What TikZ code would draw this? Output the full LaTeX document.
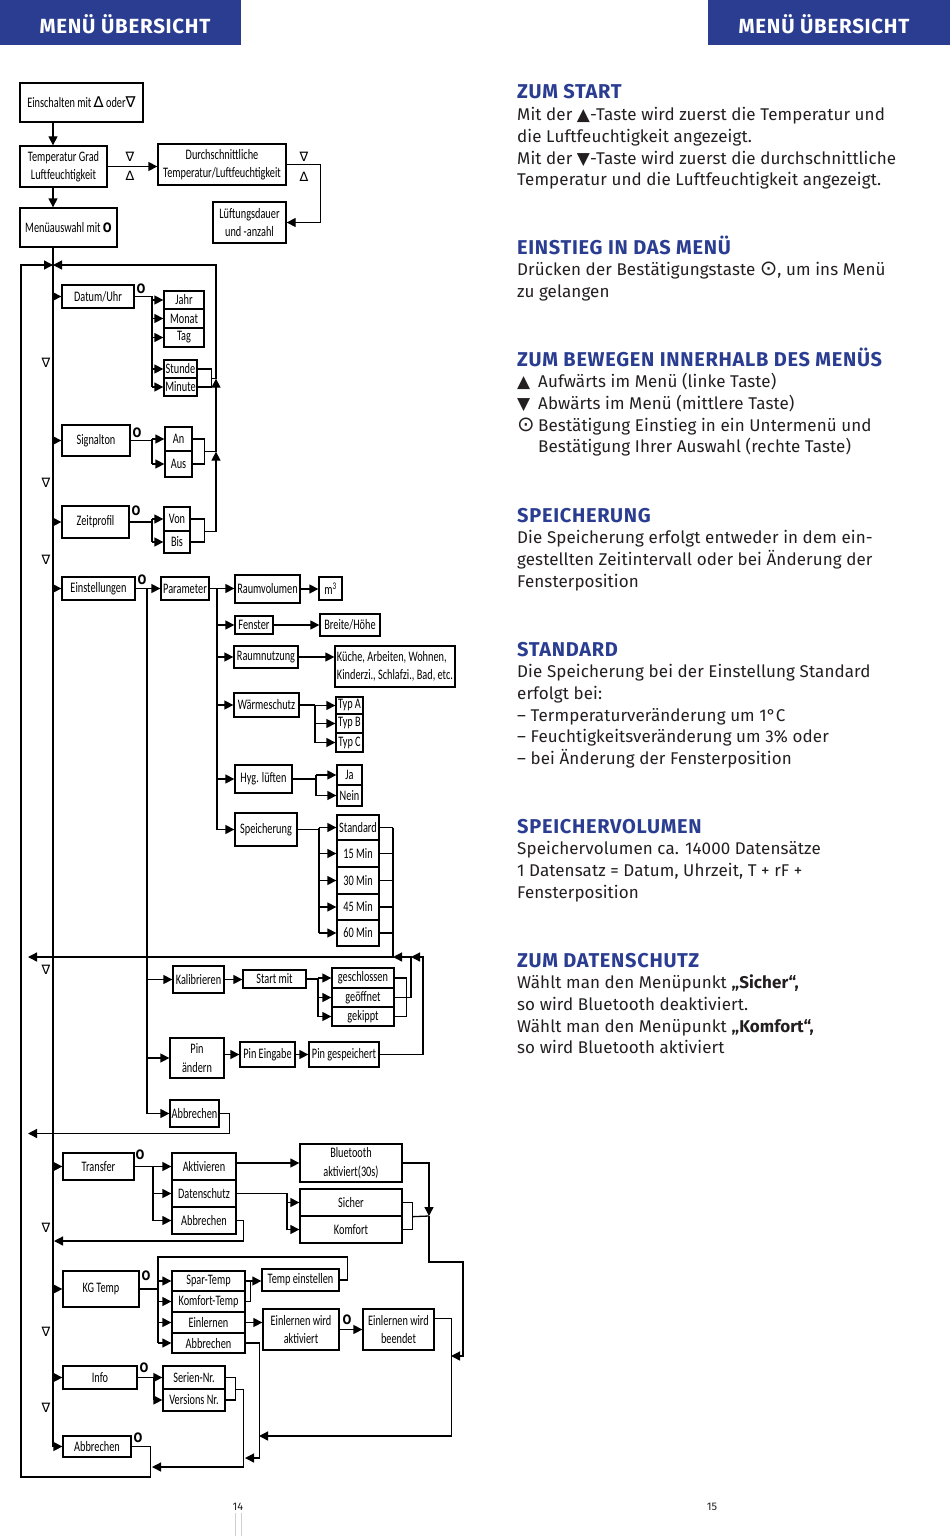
\documentclass[tikz,border=0pt]{standalone}
\usepackage{fontspec}
\setmainfont{Fira Sans}
\newfontfamily\boxfont[FakeStretch=0.71]{Carlito}
\newfontfamily\symfont{DejaVu Sans}
\newfontfamily\ringfont[FakeStretch=0.8]{DejaVu Sans}
\usetikzlibrary{arrows.meta,calc}
\definecolor{menublue}{RGB}{42,61,145}
\definecolor{txtgray}{RGB}{35,31,32}
\newcommand{\blk}[1]{{\symfont #1}}
\newcommand{\bigdot}{{\symfont\fontsize{21}{20}\selectfont ⊙}}
\newcommand{\keyup}{{\symfont\fontsize{15}{15}\selectfont ∆}}
\newcommand{\keydn}{{\symfont\fontsize{15}{15}\selectfont ∇}}

\tikzset{
	box/.style={draw,line width=1.3pt,inner sep=1pt,align=center,font=\boxfont\fontsize{14.5}{18.5}\selectfont},
	bx/.style 2 args={box,minimum width=#1,minimum height=#2},
	wire/.style={line width=1.3pt},
	arr/.style={wire,-{Triangle[length=9pt,width=9pt]}},
	okmark/.style={inner sep=0pt,font=\ringfont\bfseries\fontsize{13}{13}\selectfont},
	tri/.style={inner sep=0pt,font=\symfont\fontsize{13}{13}\selectfont},
	head/.style={anchor=base west,inner sep=0pt,text=menublue,font=\bfseries\addfontfeature{LetterSpace=3.5}\fontsize{20}{20}\selectfont},
	body/.style={anchor=base west,inner sep=0pt,text=txtgray,font=\addfontfeature{LetterSpace=0.6}\fontsize{17}{20}\selectfont},
}

\begin{document}
\begin{tikzpicture}[x=1pt,y=-1pt]
	\useasboundingbox (0,0) rectangle (950,1536);
	
	%header bars
	\fill[menublue] (0,0) rectangle (241,45);
	\fill[menublue] (708,0) rectangle (950,45);
	\node[anchor=base,text=white,font=\bfseries\addfontfeature{LetterSpace=3.5}\fontsize{20.5}{20}\selectfont] (hleft) at (125,34) {MENÜ ÜBERSICHT};
	\node[anchor=base,text=white,font=\bfseries\addfontfeature{LetterSpace=3.5}\fontsize{20.5}{20}\selectfont] (hright) at (824,34) {MENÜ ÜBERSICHT};
	
	%start
	\coordinate (spine) at (53,265);
	\coordinate (outer) at (21,265);
	\coordinate (ret) at (216,265);
	\node[bx={123}{39}] (einsch) at (81.5,102.5) {Einschalten mit \keyup{} oder\keydn};
	\node[bx={87}{41}] (tempg) at (63.5,166.5) {Temperatur Grad\\Luftfeuchtigkeit};
	\node[bx={128}{41}] (durch) at (222,164.5) {Durchschnittliche\\Temperatur/Luftfeuchtigkeit};
	\node[bx={73}{41}] (lueft) at (249.5,222.5) {Lüftungsdauer\\und -anzahl};
	\node[bx={97}{39}] (menue) at (68.5,227.5) {Menüauswahl mit {\ringfont\bfseries\fontsize{13}{13}\selectfont O}};
	\node[tri] (tdn1) at (130,157) {∇};	\node[tri] (tup1) at (130,176) {∆};
	\node[tri] (tdn2) at (304,157) {∇};	\node[tri] (tup2) at (304,177) {∆};
	\draw[arr] (einsch.south -| spine) -- (tempg.north -| spine);
	\draw[arr] (tempg.east) -- (tempg.east -| durch.west);
	\draw[arr] (durch.east) -- ++(34,0) |- (lueft.east);
	\draw[arr] (tempg.south -| spine) -- (menue.north -| spine);
	
	%datum/uhr
	\node[bx={72}{23}] (datum) at (98,296.5) {Datum/Uhr};
	\node[okmark] (okdatum) at (141,289) {O};
	\node[bx={40}{18}] (jahr) at (184,300) {Jahr};
	\node[bx={40}{19}] (monat) at (184,318.5) {Monat};
	\node[bx={40}{19}] (tag) at (184,337.5) {Tag};
	\node[bx={33}{18}] (stunde) at (180.5,369) {Stunde};
	\node[bx={33}{18}] (minute) at (180.5,387) {Minute};
	\coordinate (bd) at (152,296.5);
	\draw[wire] (datum.east) -- (bd) -- (bd |- minute.west);
	\foreach \n in {jahr,monat,tag,stunde,minute} \draw[arr] (bd |- \n.west) -- (\n.west);
	\draw[wire] (stunde.east) -- ++(14,0) -- ([xshift=14]minute.east) -- (minute.east);
	\draw[wire] ([xshift=14]stunde.south east) -- (ret |- stunde.south east);
	
	%signalton
	\node[bx={68}{31}] (signal) at (96,440.5) {Signalton};
	\node[okmark] (oksignal) at (137,433) {O};
	\node[bx={27}{24}] (an) at (178.5,439) {An};
	\node[bx={27}{26}] (aus) at (178.5,464) {Aus};
	\coordinate (bs) at (152,440.5);
	\draw[wire] (signal.east) -- (bs) (bs |- an.west) -- (bs |- aus.west);
	\foreach \n in {an,aus} \draw[arr] (bs |- \n.west) -- (\n.west);
	\draw[wire] (an.east) -- ++(12,0) -- ([xshift=12]aus.east) -- (aus.east);
	\draw[wire] ([xshift=12]an.south east) -- (ret |- an.south east);
	
	%zeitprofil
	\node[bx={67}{32}] (zeit) at (95.5,522) {Zeitprofil};
	\node[okmark] (okzeit) at (136,511) {O};
	\node[bx={26}{24}] (von) at (177,519) {Von};
	\node[bx={26}{22}] (bis) at (177,542) {Bis};
	\coordinate (bz) at (152,522);
	\draw[wire] (zeit.east) -- (bz) (bz |- von.west) -- (bz |- bis.west);
	\foreach \n in {von,bis} \draw[arr] (bz |- \n.west) -- (\n.west);
	\draw[wire] (von.east) -- ++(14,0) -- ([xshift=14]bis.east) -- (bis.east);
	\draw[wire] ([xshift=14]von.south east) -- (ret |- von.south east);
	
	%back to the menu
	\draw[arr] (ret |- von.south east) -- (ret |- an.south east);
	\draw[arr] (ret |- an.south east) -- (ret |- stunde.south east);
	\draw[arr] (ret |- stunde.south east) -- (ret) -- (spine);
	
	%einstellungen
	\node[bx={73}{23}] (einst) at (98.5,588.5) {Einstellungen};
	\node[okmark] (okeinst) at (142,580) {O};
	\node[bx={48}{23}] (param) at (185,588.5) {Parameter};
	\node[bx={65}{28}] (raumvol) at (267.5,589) {Raumvolumen};
	\node[bx={23}{23}] (mcube) at (330.5,588.5) {m\textsuperscript{3}};
	\node[bx={38}{18}] (fenster) at (254,625) {Fenster};
	\node[bx={60}{22}] (breite) at (350,625) {Breite/Höhe};
	\node[bx={64}{22}] (raumnutz) at (266,657) {Raumnutzung};
	\node[bx={120}{41},align=left] (kueche) at (395,666.5) {Küche, Arbeiten, Wohnen,\\Kinderzi., Schlafzi., Bad, etc.};
	\node[bx={65}{24}] (waerme) at (266.5,705) {Wärmeschutz};
	\node[bx={27}{17}] (typa) at (349.5,705.5) {Typ A};
	\node[bx={27}{19}] (typb) at (349.5,723.5) {Typ B};
	\node[bx={27}{19}] (typc) at (349.5,742.5) {Typ C};
	\node[bx={57}{28}] (hyg) at (263.5,779) {Hyg. lüften};
	\node[bx={25}{20}] (ja) at (349.5,775) {Ja};
	\node[bx={25}{21}] (nein) at (349.5,795.5) {Nein};
	\node[bx={62}{33}] (speich) at (266,829.5) {Speicherung};
	\node[bx={42}{25}] (standard) at (358,827.5) {Standard};
	\node[bx={42}{27}] (min15) at (358,853.5) {15 Min};
	\node[bx={42}{27}] (min30) at (358,880.5) {30 Min};
	\node[bx={42}{26}] (min45) at (358,907) {45 Min};
	\node[bx={42}{26}] (min60) at (358,933) {60 Min};
	%
	\draw[arr] (einst.east) -- (einst.east -| param.west);
	\draw[arr] (param.east) -- (param.east -| raumvol.west);
	\draw[arr] (raumvol.east) -- (raumvol.east -| mcube.west);
	\coordinate (bp) at (217,588.5);
	\draw[wire] (bp) -- (bp |- speich.west);
	\foreach \n in {fenster,raumnutz,waerme,hyg,speich} \draw[arr] (bp |- \n.west) -- (\n.west);
	\draw[arr] (fenster.east) -- (breite.west);
	\draw[arr] (raumnutz.east) -- (raumnutz.east -| kueche.west);
	\coordinate (bw) at (315,705);
	\draw[wire] (waerme.east) -- (bw) (bw |- typa.west) -- (bw |- typc.west);
	\foreach \n in {typa,typb,typc} \draw[arr] (bw |- \n.west) -- (\n.west);
	\coordinate (bh) at (316,779);
	\draw[wire] (hyg.east) -- (bh) (bh |- ja.west) -- (bh |- nein.west);
	\foreach \n in {ja,nein} \draw[arr] (bh |- \n.west) -- (\n.west);
	\coordinate (bsp) at (319,829.5);
	\draw[wire] (speich.east) -- (bsp) (bsp |- standard.west) -- (bsp |- min60.west);
	\foreach \n in {standard,min15,min30,min45,min60} \draw[arr] (bsp |- \n.west) -- (\n.west);
	\coordinate (rs) at (393,957);
	\foreach \n in {standard,min15,min30,min45,min60} \draw[wire] (\n.east) -- (\n.east -| rs);
	
	%kalibrieren, pin, abbrechen
	\node[bx={51}{27}] (kalib) at (198.5,979.5) {Kalibrieren};
	\node[bx={63}{18}] (startm) at (274.5,979) {Start mit};
	\node[bx={62}{20}] (geschl) at (363,978) {geschlossen};
	\node[bx={62}{19}] (geoeff) at (363,997.5) {geöffnet};
	\node[bx={62}{19}] (gekippt) at (363,1016.5) {gekippt};
	\node[bx={54}{40}] (pinaend) at (197,1058) {Pin\\ändern};
	\node[bx={55}{25}] (pinein) at (267.5,1054.5) {Pin Eingabe};
	\node[bx={70}{25}] (pingesp) at (344,1054.5) {Pin gespeichert};
	\node[bx={49}{27}] (abbr1) at (194.5,1113.5) {Abbrechen};
	%
	\coordinate (be) at (147,588.5);
	\draw[wire] (be) -- (be |- abbr1.west);
	\foreach \n in {kalib,pinaend,abbr1} \draw[arr] (be |- \n.west) -- (\n.west);
	\draw[arr] (kalib.east) -- (kalib.east -| startm.west);
	\coordinate (bk) at (318,979);
	\draw[wire] (startm.east) -- (bk) (bk |- geschl.west) -- (bk |- gekippt.west);
	\foreach \n in {geschl,geoeff,gekippt} \draw[arr] (bk |- \n.west) -- (\n.west);
	\draw[wire] (geschl.east) -- ++(12,0) -- ([xshift=12]gekippt.east) -- (gekippt.east);
	\draw[arr] (pinaend.east |- pinein.west) -- (pinein.west);
	\draw[arr] (pinein.east) -- (pingesp.west);
	%return lines
	\coordinate (rk) at (411,957);
	\coordinate (rp) at (423,957);
	\coordinate (rsend) at (28,957);
	\coordinate (rbend) at (28,1133.5);
	\draw[arr] (pingesp.east) -| (rp) -- (rk);
	\draw[arr] (geoeff.east) -| (rk) -- (rs);
	\draw[arr] (rs |- standard.east) -- (rs) -- (rsend);
	\draw[arr] (abbr1.east) -- ++(10,0) |- (rbend);
	
	%transfer
	\node[bx={71}{27}] (transfer) at (98.5,1166.5) {Transfer};
	\node[okmark] (oktransfer) at (140,1155) {O};
	\node[bx={64}{27}] (aktiv) at (204,1166.5) {Aktivieren};
	\node[bx={64}{27}] (daten) at (204,1193.5) {Datenschutz};
	\node[bx={64}{27}] (abbr2) at (204,1220.5) {Abbrechen};
	\node[bx={102}{38}] (blue) at (351,1163) {Bluetooth\\aktiviert(30s)};
	\node[bx={102}{27}] (sicher) at (351,1202.5) {Sicher};
	\node[bx={102}{27}] (komfort) at (351,1229.5) {Komfort};
	%
	\coordinate (bt) at (153,1166.5);
	\draw[wire] (transfer.east) -- (bt) -- (bt |- abbr2.west);
	\foreach \n in {aktiv,daten,abbr2} \draw[arr] (bt |- \n.west) -- (\n.west);
	\draw[arr] (blue.west -| aktiv.east) -- (blue.west);
	\coordinate (bdat) at (287,1193.5);
	\draw[wire] (daten.east) -- (bdat) -- (bdat |- komfort.west);
	\foreach \n in {sicher,komfort} \draw[arr] (bdat |- \n.west) -- (\n.west);
	\draw[wire] (sicher.east) -- ++(10,0) -- ([xshift=10]komfort.east) -- (komfort.east);
	\coordinate (bb) at (429,1216);
	\coordinate (bb2) at (463,1262);
	\coordinate (bbend) at (451,1356);
	\coordinate (trback) at (54,1241);
	\draw[wire] ([xshift=10]sicher.south east) -- (bb);
	\draw[arr] (blue.east) -| (bb);
	\draw[arr] (bb) -- (bb |- bb2) -- (bb2) |- (bbend);
	\draw[arr] (abbr2.east) -- ++(7,0) |- (trback);
	
	%kg temp
	\node[bx={76}{36}] (kgtemp) at (101,1289) {KG Temp};
	\node[okmark] (okkg) at (146,1276) {O};
	\node[bx={73}{20}] (spar) at (208.5,1281) {Spar-Temp};
	\node[bx={73}{21}] (komft) at (208.5,1301.5) {Komfort-Temp};
	\node[bx={73}{21}] (einl) at (208.5,1322.5) {Einlernen};
	\node[bx={73}{20}] (abbr3) at (208.5,1343) {Abbrechen};
	\node[bx={77}{22}] (tempein) at (300.5,1280) {Temp einstellen};
	\node[bx={76}{41}] (einlakt) at (301,1329.5) {Einlernen wird\\aktiviert};
	\node[okmark] (okeinl) at (347,1320) {O};
	\node[bx={71}{41}] (einlend) at (398.5,1329.5) {Einlernen wird\\beendet};
	%
	\coordinate (bkg) at (158,1289);
	\coordinate (kgtop) at (158,1257);
	\coordinate (kgret) at (259,1436);
	\coordinate (kgend) at (245,1458);
	\draw[wire] (kgtemp.east) -- (bkg);
	\draw[wire] (tempein.east) -- ++(8,0) |- (kgtop) -- (kgtop |- abbr3.west);
	\foreach \n in {spar,komft,einl,abbr3} \draw[arr] (kgtop |- \n.west) -- (\n.west);
	\draw[arr] (spar.east) -- (spar.east -| tempein.west);
	\draw[wire] (komft.east) -- ++(5,0) -- ([xshift=5]spar.east);
	\draw[arr] (einl.east) -- (einl.east -| einlakt.west);
	\draw[arr] (einlakt.east) -- (einlend.west);
	\draw[arr] ($(einlend.east)+(0,-11)$) -- ++(17,0) |- (kgret);
	\draw[arr] (abbr3.east) -- ++(14,0) |- (kgend);
	
	%info
	\node[bx={74}{23}] (info) at (100,1377.5) {Info};
	\node[okmark] (okinfo) at (144,1368) {O};
	\node[bx={62}{23}] (serien) at (194,1377.5) {Serien-Nr.};
	\node[bx={62}{22}] (version) at (194,1400) {Versions Nr.};
	\coordinate (bi) at (154,1377.5);
	\coordinate (infend) at (152,1467);
	\draw[wire] (info.east) -- (bi) -- (bi |- version.west);
	\foreach \n in {serien,version} \draw[arr] (bi |- \n.west) -- (\n.west);
	\draw[wire] (serien.east) -- ++(10,0) -- ([xshift=10]version.east) -- (version.east);
	\draw[arr] ([xshift=10]serien.south east) -- ++(8,0) |- (infend);
	
	%abbrechen
	\node[bx={68}{21}] (abbr4) at (97,1446.5) {Abbrechen};
	\node[okmark] (okabbr) at (138,1438) {O};
	
	%main line and outer loop
	\draw[arr] (menue.south -| spine) |- (abbr4.west);
	\foreach \n in {datum,signal,zeit,einst,transfer,kgtemp,info} \draw[arr] (spine |- \n.west) -- (\n.west);
	\coordinate (outbot) at (21,1477);
	\draw[arr] (abbr4.east) -- ++(19,0) |- (outbot) -- (outer) -- (spine);
	\foreach \y [count=\i] in {363,483,560,970,1228,1332,1408} \node[tri] (dn\i) at (46,\y) {∇};
	
	%right page
	\node[head] (hstart) at (517,99) {ZUM START};
	\foreach \t [count=\i] in {{Mit der \blk{▲}-Taste wird zuerst die Temperatur und},{die Luftfeuchtigkeit angezeigt.},{Mit der \blk{▼}-Taste wird zuerst die durchschnittliche},{Temperatur und die Luftfeuchtigkeit angezeigt.}}
		\node[body] (start\i) at (517,99+21.7*\i) {\t};
	\node[head] (hmenu) at (517,254) {EINSTIEG IN DAS MENÜ};
	\foreach \t [count=\i] in {{Drücken der Bestätigungstaste \bigdot, um ins Menü},{zu gelangen}}
		\node[body] (menu\i) at (517,254+21.7*\i) {\t};
	\node[head] (hmove) at (517,366) {ZUM BEWEGEN INNERHALB DES MENÜS};
	\foreach \t [count=\i] in {{\makebox[21pt][l]{\blk{▲}}Aufwärts im Menü (linke Taste)},{\makebox[21pt][l]{\blk{▼}}Abwärts im Menü (mittlere Taste)},{\makebox[21pt][l]{\bigdot}Bestätigung Einstieg in ein Untermenü und},{\hspace*{21pt}Bestätigung Ihrer Auswahl (rechte Taste)}}
		\node[body] (move\i) at (517,366+21.7*\i) {\t};
	\node[head] (hsave) at (517,522) {SPEICHERUNG};
	\foreach \t [count=\i] in {{Die Speicherung erfolgt entweder in dem ein-},{gestellten Zeitintervall oder bei Änderung der},{Fensterposition}}
		\node[body] (save\i) at (517,522+21.7*\i) {\t};
	\node[head] (hstd) at (517,656) {STANDARD};
	\foreach \t [count=\i] in {{Die Speicherung bei der Einstellung Standard},{erfolgt bei:},{– Termperaturveränderung um 1°C},{– Feuchtigkeitsveränderung um 3\% oder},{– bei Änderung der Fensterposition}}
		\node[body] (std\i) at (517,656+21.7*\i) {\t};
	\node[head] (hvol) at (517,833) {SPEICHERVOLUMEN};
	\foreach \t [count=\i] in {{Speichervolumen ca. 14000 Datensätze},{1 Datensatz = Datum, Uhrzeit, T + rF +},{Fensterposition}}
		\node[body] (vol\i) at (517,833+21.7*\i) {\t};
	\node[head] (hpriv) at (517,967) {ZUM DATENSCHUTZ};
	\foreach \t [count=\i] in {{Wählt man den Menüpunkt \textbf{„Sicher“,}},{so wird Bluetooth deaktiviert.},{Wählt man den Menüpunkt \textbf{„Komfort“,}},{so wird Bluetooth aktiviert}}
		\node[body] (priv\i) at (517,967+21.7*\i) {\t};
	
	%page numbers
	\node[anchor=base,text=txtgray,font=\fontsize{11}{11}\selectfont] (pg14) at (238,1510) {14};
	\node[anchor=base,text=txtgray,font=\fontsize{11}{11}\selectfont] (pg15) at (712,1510) {15};
	\draw[black!18,line width=0.8pt] (235,1513) -- (235,1536);
	\draw[black!18,line width=0.8pt] (241,1513) -- (241,1536);
\end{tikzpicture}
\end{document}
